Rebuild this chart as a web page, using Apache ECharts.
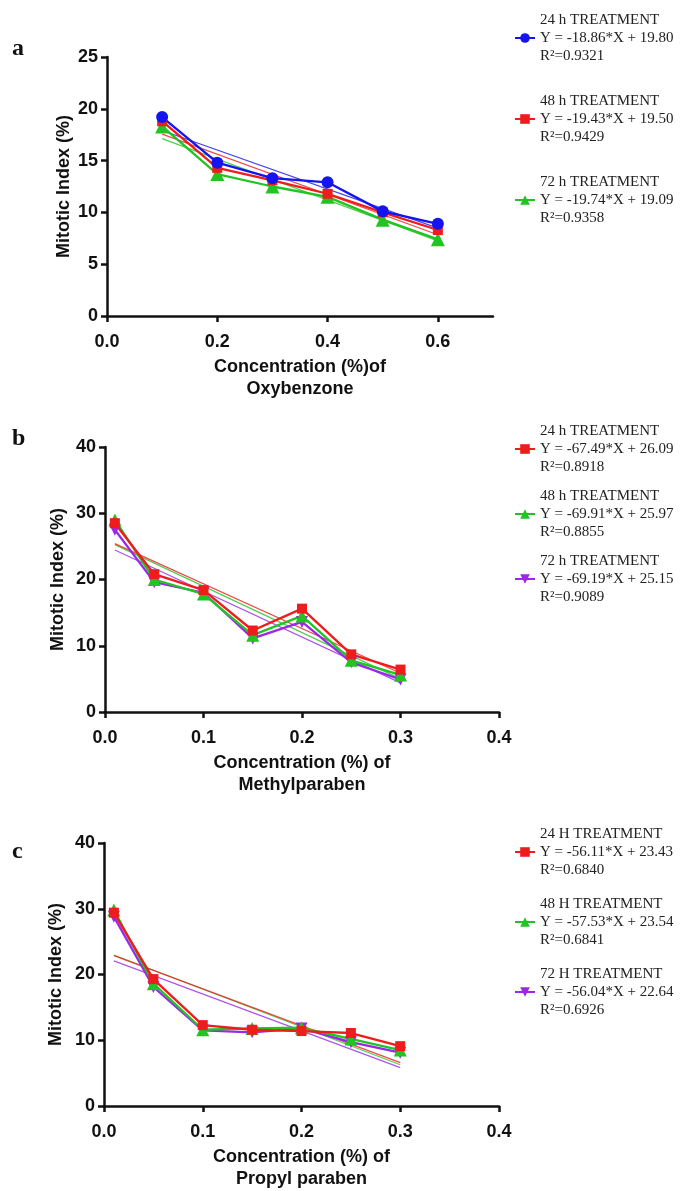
<!DOCTYPE html>
<html>
<head>
<meta charset="utf-8">
<script src="https://cdn.jsdelivr.net/npm/echarts@6/dist/echarts.min.js"></script>
<style>
  html, body { margin: 0; padding: 0; background: #fff; }
  #chart { width: 683px; height: 1191px; }
</style>
</head>
<body>
<div id="chart"></div>
<script>
// 各图的横坐标 (浓度 %)
const xA = [0.1, 0.2, 0.3, 0.4, 0.5, 0.6]
const xBC = [0.01, 0.05, 0.1, 0.15, 0.2, 0.25, 0.3]

// a: Oxybenzone
const a24 = [19.2, 14.8, 13.3, 12.9, 10.1, 8.9]
const a48 = [18.8, 14.3, 13.1, 11.8, 10.0, 8.3]
const a72 = [18.3, 13.7, 12.5, 11.5, 9.3, 7.4]
// b: Methylparaben
const b24 = [28.5, 20.8, 18.4, 12.3, 15.6, 8.7, 6.4]
const b48 = [29.0, 20.0, 17.8, 11.6, 14.5, 7.8, 5.6]
const b72 = [27.5, 19.6, 18.0, 11.1, 13.6, 7.5, 4.9]
// c: Propyl paraben
const c24 = [29.4, 19.3, 12.3, 11.6, 11.4, 11.1, 9.1]
const c48 = [29.8, 18.6, 11.6, 11.8, 11.9, 10.2, 8.5]
const c72 = [28.8, 18.1, 11.5, 11.2, 11.8, 9.7, 8.1]

// 回归线两端 [起点, 终点]
const fitA = { a24: [17.91, 8.48], a48: [17.56, 7.84], a72: [17.12, 7.25] }
const fitB = { b24: [25.42, 5.84], b48: [25.27, 5.00], b72: [24.46, 4.39] }
const fitC = { c24: [22.87, 6.60], c48: [22.96, 6.28], c72: [22.08, 5.83] }

// 刻度
const xTicksA = [0, 0.2, 0.4, 0.6]

// 图例文字
const legendText = {
  a24: ['24 h TREATMENT', 'Y = -18.86*X + 19.80', 'R²=0.9321'],
  a48: ['48 h TREATMENT', 'Y = -19.43*X + 19.50', 'R²=0.9429'],
  a72: ['72 h TREATMENT', 'Y = -19.74*X + 19.09', 'R²=0.9358'],
  b24: ['24 h TREATMENT', 'Y = -67.49*X + 26.09', 'R²=0.8918'],
  b48: ['48 h TREATMENT', 'Y = -69.91*X + 25.97', 'R²=0.8855'],
  b72: ['72 h TREATMENT', 'Y = -69.19*X + 25.15', 'R²=0.9089'],
  c24: ['24 H TREATMENT', 'Y = -56.11*X + 23.43', 'R²=0.6840'],
  c48: ['48 H TREATMENT', 'Y = -57.53*X + 23.54', 'R²=0.6841'],
  c72: ['72 H TREATMENT', 'Y = -56.04*X + 22.64', 'R²=0.6926']
}

const BLUE = '#1414ee', RED = '#ee1c1c', GREEN = '#22c322', PURPLE = '#9b27e8'
const sans = 'Liberation Sans, Arial, sans-serif'
const serif = 'Liberation Serif, Times New Roman, serif'

const pair = (xs, ys) => xs.map((x, i) => [x, ys[i]])

// 数据折线
const dataLine = (name, idx, xs, ys, color, symbol, size, rotate) => ({
  name: name,
  type: 'line',
  xAxisIndex: idx,
  yAxisIndex: idx,
  data: pair(xs, ys),
  symbol: symbol,
  symbolSize: size,
  symbolRotate: rotate || 0,
  itemStyle: { color: color },
  lineStyle: { color: color, width: 2.3 },
  z: 3
})

// 回归直线
const fitLine = (key, idx, xs, ends, color) => ({
  name: key + '_fit',
  type: 'line',
  xAxisIndex: idx,
  yAxisIndex: idx,
  data: [[xs[0], ends[0]], [xs[xs.length - 1], ends[1]]],
  symbol: 'none',
  silent: true,
  lineStyle: { color: color, width: 1.2, opacity: 0.8 },
  z: 2
})

const grids = [
  { left: 107, top: 57, width: 386, height: 259 },
  { left: 105, top: 447, width: 394, height: 265 },
  { left: 104, top: 843, width: 395, height: 263 }
]

const axisCommon = {
  axisLine: { lineStyle: { color: '#111', width: 2.5 } },
  axisTick: { length: 6, lineStyle: { color: '#111', width: 2.5 } },
  splitLine: { show: false },
  nameTextStyle: { fontFamily: sans, fontWeight: 'bold', fontSize: 18, color: '#111', lineHeight: 22 }
}

const xNames = ['Concentration (%)of\nOxybenzone', 'Concentration (%) of\nMethylparaben', 'Concentration (%) of\nPropyl paraben']
const yGaps = [32, 36, 37]

const xAxes = [0, 1, 2].map(i => {
  const ax = Object.assign({}, axisCommon, {
    type: 'value',
    gridIndex: i,
    min: 0,
    max: i === 0 ? 0.7 : 0.4,
    name: xNames[i],
    nameLocation: 'middle',
    nameGap: 40,
    axisLabel: {
      fontFamily: sans, fontWeight: 'bold', fontSize: 18, color: '#111', margin: 17,
      formatter: v => v.toFixed(1)
    }
  })
  if (i === 0) {
    ax.axisLabel.customValues = xTicksA
    ax.axisTick = Object.assign({}, axisCommon.axisTick, { customValues: xTicksA })
  } else {
    ax.interval = 0.1
  }
  return ax
})

const yAxes = [0, 1, 2].map(i => Object.assign({}, axisCommon, {
  type: 'value',
  gridIndex: i,
  min: 0,
  max: i === 0 ? 25 : 40,
  interval: i === 0 ? 5 : 10,
  name: 'Mitotic Index (%)',
  nameLocation: 'middle',
  nameGap: yGaps[i],
  nameMoveOverlap: false,
  axisLabel: { fontFamily: sans, fontWeight: 'bold', fontSize: 18, color: '#111', margin: 9 }
}))

const legendOf = (names, top, gap) => ({
  data: names,
  orient: 'vertical',
  left: 514,
  top: top,
  padding: 0,
  itemGap: gap,
  itemWidth: 20,
  itemHeight: 12,
  selectedMode: false,
  formatter: n => legendText[n].join('\n'),
  textStyle: { fontFamily: serif, fontSize: 15, color: '#222', lineHeight: 18 }
})

const series = [
  // a：绿色在下，蓝色在上
  fitLine('a72', 0, xA, fitA.a72, GREEN),
  fitLine('a48', 0, xA, fitA.a48, RED),
  fitLine('a24', 0, xA, fitA.a24, BLUE),
  dataLine('a72', 0, xA, a72, GREEN, 'triangle', 14),
  dataLine('a48', 0, xA, a48, RED, 'rect', 10),
  dataLine('a24', 0, xA, a24, BLUE, 'circle', 12),
  // b
  fitLine('b72', 1, xBC, fitB.b72, PURPLE),
  fitLine('b48', 1, xBC, fitB.b48, GREEN),
  fitLine('b24', 1, xBC, fitB.b24, RED),
  dataLine('b72', 1, xBC, b72, PURPLE, 'triangle', 12, 180),
  dataLine('b48', 1, xBC, b48, GREEN, 'triangle', 13),
  dataLine('b24', 1, xBC, b24, RED, 'rect', 10),
  // c
  fitLine('c72', 2, xBC, fitC.c72, PURPLE),
  fitLine('c48', 2, xBC, fitC.c48, GREEN),
  fitLine('c24', 2, xBC, fitC.c24, RED),
  dataLine('c72', 2, xBC, c72, PURPLE, 'triangle', 12, 180),
  dataLine('c48', 2, xBC, c48, GREEN, 'triangle', 13),
  dataLine('c24', 2, xBC, c24, RED, 'rect', 10)
]

const letterStyle = { fontFamily: serif, fontWeight: 'bold', fontSize: 24, color: '#111' }

const option = {
  animation: false,
  backgroundColor: '#fff',
  title: [
    { text: 'a', left: 12, top: 37, padding: 0, textStyle: letterStyle },
    { text: 'b', left: 12, top: 427, padding: 0, textStyle: letterStyle },
    { text: 'c', left: 12, top: 840, padding: 0, textStyle: letterStyle }
  ],
  grid: grids,
  xAxis: xAxes,
  yAxis: yAxes,
  legend: [
    legendOf(['a24', 'a48', 'a72'], 11, 27),
    legendOf(['b24', 'b48', 'b72'], 422, 11),
    legendOf(['c24', 'c48', 'c72'], 825, 16)
  ],
  series: series
}

const myChart = echarts.init(document.getElementById('chart'))
myChart.setOption(option, true)
window.onresize = myChart.resize
</script>
</body>
</html>
